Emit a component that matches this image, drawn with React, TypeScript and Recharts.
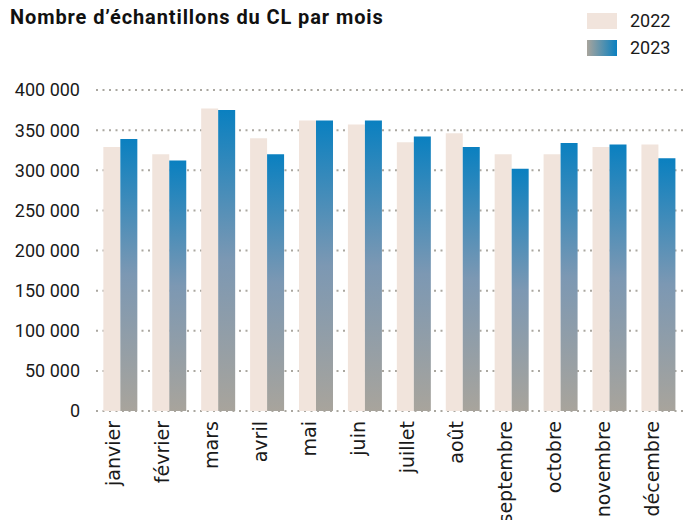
import { BarChart, Bar, XAxis, YAxis, CartesianGrid } from 'recharts'

const months = ['janvier', 'février', 'mars', 'avril', 'mai', 'juin', 'juillet', 'août', 'septembre', 'octobre', 'novembre', 'décembre']
const values2022 = [329000, 320000, 377000, 340000, 362000, 357000, 335000, 346000, 320000, 320000, 329000, 332000]
const values2023 = [339000, 312000, 375000, 320000, 362000, 362000, 342000, 329000, 302000, 334000, 332000, 315000]
const yTicks = [0, 50000, 100000, 150000, 200000, 250000, 300000, 350000, 400000]
const seriesNames = ['2022', '2023']

const BEIGE = '#f1e4dc'
const BLUE = '#0a80c0'
const MID = '#7c98b3'
const GREY = '#a8a49c'

const data = months.map((m, i) => ({ month: m, y2022: values2022[i], y2023: values2023[i] }))

const fmt = (v: number) => String(v).replace(/\B(?=(\d{3})+(?!\d))/g, ' ')

function MonthTick({ x, y, payload }: any) {
  return (
    <text
      x={x}
      y={y}
      transform={`rotate(-90 ${x} ${y})`}
      textAnchor="end"
      fontFamily="'DejaVu Sans', sans-serif"
      fontSize={19}
      fill="#1a1a1a"
    >
      {payload.value}
    </text>
  )
}

function LegendBox() {
  const swatches = [BEIGE, `linear-gradient(to right, ${GREY}, ${BLUE})`]
  return (
    <div style={{ position: 'absolute', left: 587, top: 7, fontFamily: 'Roboto, sans-serif' }}>
      {seriesNames.map((name, i) => (
        <div key={name} style={{ display: 'flex', alignItems: 'center', height: 27 }}>
          <div style={{ width: 30, height: 16, background: swatches[i], marginRight: 13 }} />
          <span style={{ fontSize: 18, color: '#1a1a1a' }}>{name}</span>
        </div>
      ))}
    </div>
  )
}

export default function App() {
  return (
    <div style={{ position: 'absolute', left: 0, top: 0, width: 683, height: 520, background: '#fff' }}>
      <div
        style={{
          position: 'absolute',
          left: 10,
          top: 5,
          fontFamily: 'Roboto, sans-serif',
          fontWeight: 700,
          fontSize: 20,
          letterSpacing: 0.9,
          color: '#111',
          zIndex: 1,
        }}
      >
        Nombre d’échantillons du CL par mois
      </div>
      <LegendBox />
      <BarChart
        width={683}
        height={520}
        data={data}
        margin={{ top: 90, right: 0, bottom: 0, left: 0 }}
        barCategoryGap="15%"
        barGap={0}
      >
        <defs>
          <linearGradient id="grad2023" x1="0" y1="0" x2="0" y2="1">
            <stop offset="0%" stopColor={BLUE} />
            <stop offset="50%" stopColor={MID} />
            <stop offset="100%" stopColor={GREY} />
          </linearGradient>
        </defs>
        <CartesianGrid vertical={false} stroke="#aaa7a0" strokeWidth={2} strokeDasharray="2 4.5" />
        <XAxis
          dataKey="month"
          height={109}
          interval={0}
          axisLine={false}
          tickLine={false}
          tickMargin={4}
          tick={<MonthTick />}
        />
        <YAxis
          width={96}
          domain={[0, 400000]}
          ticks={yTicks}
          axisLine={false}
          tickLine={false}
          tickMargin={10}
          tickFormatter={fmt}
          tick={{ fontFamily: 'Roboto, sans-serif', fontSize: 18, fill: '#1a1a1a' }}
        />
        <Bar dataKey="y2022" name="2022" fill={BEIGE} isAnimationActive={false} />
        <Bar dataKey="y2023" name="2023" fill="url(#grad2023)" isAnimationActive={false} />
      </BarChart>
    </div>
  )
}
